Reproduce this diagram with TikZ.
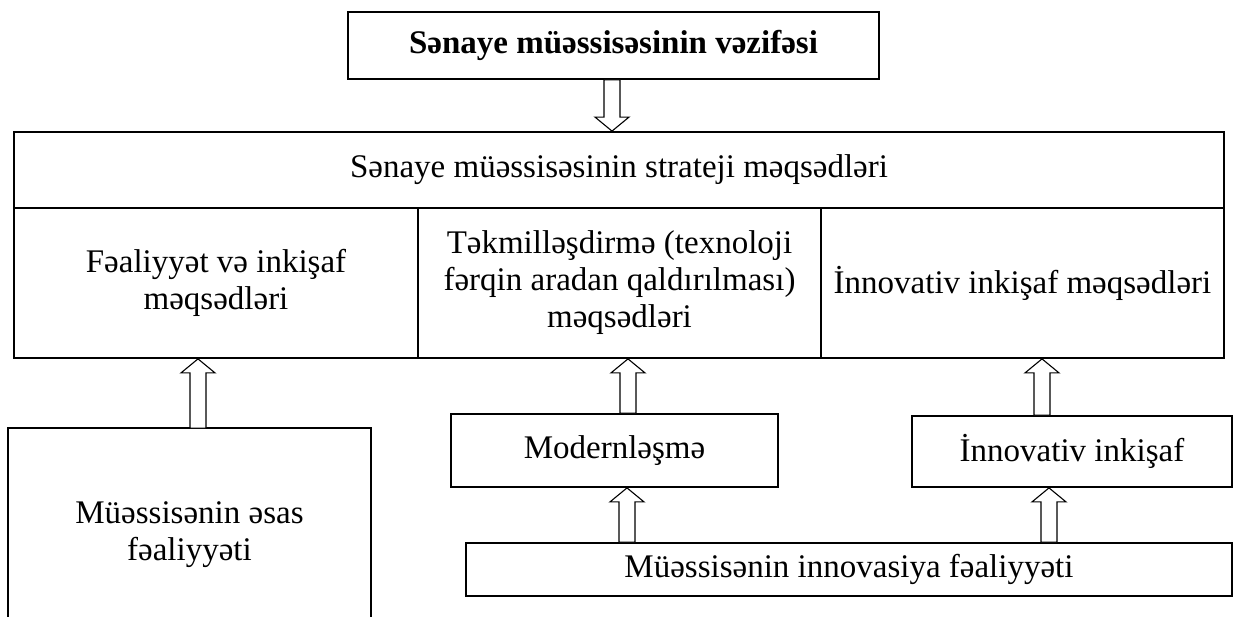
\documentclass[tikz,border=0pt]{standalone}
\usepackage{fontspec}
\setmainfont{Liberation Serif}
\usetikzlibrary{calc}

% hollow block arrow from #1 to #2 (vertical)
\newcommand{\hollowarrow}[2]{%
  \draw[arrowline] let \p1=(#1), \p2=(#2), \p3=($(#2)!14pt!(#1)$) in
    (\x1-8pt,\y1) -- (\x1-8pt,\y3) -- (\x1-17pt,\y3) -- (\x1,\y2)
    -- (\x1+17pt,\y3) -- (\x1+8pt,\y3) -- (\x1+8pt,\y1) -- cycle;}

\begin{document}
\begin{tikzpicture}[x=1pt, y=-1pt,
  box/.style={draw, line width=1.8pt, inner sep=0pt, align=center,
    font=\fontsize{33}{37}\selectfont},
  arrowline/.style={draw, line width=1.1pt, fill=white, line join=miter}]
\useasboundingbox (0,0) rectangle (1235,617);

% Task
\node[box, minimum width=531pt, minimum height=67pt,
  font=\bfseries\fontsize{33}{37}\selectfont] (task) at (613.5,45.5)
  {Sənaye müəssisəsinin vəzifəsi};

% Strategic goals table
\node[box, minimum width=1210pt, minimum height=76pt] (strat) at (619,170)
  {Sənaye müəssisəsinin strateji məqsədləri};
\node[box, minimum width=404pt, minimum height=150pt] (goal1) at (216,283)
  {Fəaliyyət və inkişaf\\məqsədləri};
\node[box, minimum width=403pt, minimum height=150pt] (goal2) at (619.5,283)
  {Təkmilləşdirmə (texnoloji\\fərqin aradan qaldırılması)\\məqsədləri};
\node[box, minimum width=403pt, minimum height=150pt] (goal3) at (1022.5,283)
  {İnnovativ inkişaf məqsədləri};

% Lower boxes
\node[box, draw=none, minimum width=361pt, minimum height=212pt] (base) at (189.5,535)
  {Müəssisənin əsas\\fəaliyyəti};
\draw[line width=1.8pt] (base.south west) -- (base.north west)
  -- (base.north east) -- (base.south east);
\node[box, minimum width=327pt, minimum height=73pt] (mod) at (614.5,450.5)
  {Modernləşmə};
\node[box, minimum width=320pt, minimum height=71pt] (innov) at (1072,451.5)
  {İnnovativ inkişaf};
\node[box, minimum width=766pt, minimum height=53pt] (inact) at (849,569.5)
  {Müəssisənin innovasiya fəaliyyəti};

% Arrows
\coordinate (c0) at (612,0);
\coordinate (c1) at (198,0);
\coordinate (c2) at (628,0);
\coordinate (c3) at (1042,0);
\coordinate (c4) at (627,0);
\coordinate (c5) at (1049,0);
\hollowarrow{c0 |- task.south}{c0 |- strat.north}
\hollowarrow{c1 |- base.north}{c1 |- goal1.south}
\hollowarrow{c2 |- mod.north}{c2 |- goal2.south}
\hollowarrow{c3 |- innov.north}{c3 |- goal3.south}
\hollowarrow{c4 |- inact.north}{c4 |- mod.south}
\hollowarrow{c5 |- inact.north}{c5 |- innov.south}
\end{tikzpicture}
\end{document}
